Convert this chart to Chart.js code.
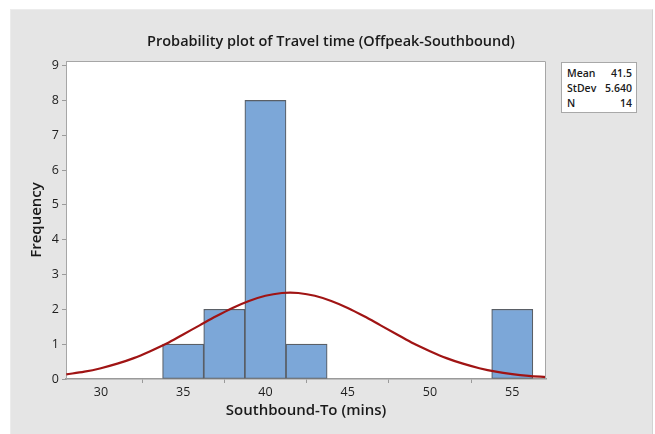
<!DOCTYPE html>
<html>
<head>
<meta charset="utf-8">
<script src="https://cdn.jsdelivr.net/npm/chart.js@4/dist/chart.umd.min.js"></script>
<style>
  html, body { margin: 0; padding: 0; background: #ffffff; }
  #wrap { position: relative; width: 655px; height: 434px; overflow: hidden; }
  #panel { position: absolute; left: 10px; top: 9px; width: 641px; height: 430px; background: #e5e5e5; border-right: 1px solid #d2d2d2; border-top: 1px solid #ececec; border-left: 1px solid #ececec; }
  #c { position: absolute; left: 0; top: 0; }
  #title { position: absolute; left: 131px; width: 400px; top: 31px; text-align: center;
           font-family: "Open Sans", "Noto Sans", sans-serif; font-size: 14.5px; font-weight: 600; color: #1a1a1a; line-height: 20px; white-space: nowrap; }
  #stats { position: absolute; left: 561px; top: 62px; width: 74px; height: 49px; background: #ffffff; border: 1px solid #a8a8a8;
           font-family: "Open Sans", "Noto Sans", sans-serif; font-size: 10.5px; font-weight: 600; color: #1a1a1a; }
  .row { position: absolute; left: 5px; right: 4px; height: 14px; line-height: 14px; }
  .row span.l { position: absolute; left: 0; }
  .row span.v { position: absolute; right: 0; }
</style>
</head>
<body>
<div id="wrap">
  <div id="panel"></div>
  <canvas id="c" width="655" height="434"></canvas>
  <div id="title"></div>
  <div id="stats">
    <div class="row" style="top:3px"><span class="l" id="lMean"></span><span class="v" id="sMean"></span></div>
    <div class="row" style="top:18px"><span class="l" id="lSd"></span><span class="v" id="sSd"></span></div>
    <div class="row" style="top:33px"><span class="l" id="lN"></span><span class="v" id="sN"></span></div>
  </div>
</div>
<script>
// Histogram bins (centers) and counts
const binCenters = [35, 37.5, 40, 42.5, 55];
const binCounts  = [1, 2, 8, 1, 2];

// Fitted normal curve
const curveX = [27.9, 29, 30, 31, 32, 33, 34, 35, 36, 37, 38, 39, 40, 41, 41.5, 42, 43, 44, 45, 46, 47, 48, 49, 50, 51, 52, 53, 54, 55, 56, 57.05];
const curveY = [0.135, 0.21, 0.31, 0.44, 0.60, 0.80, 1.02, 1.28, 1.54, 1.80, 2.04, 2.24, 2.39, 2.47, 2.48, 2.47, 2.39, 2.24, 2.04, 1.80, 1.54, 1.28, 1.02, 0.80, 0.60, 0.44, 0.31, 0.21, 0.14, 0.09, 0.055];

const xTicks = [30, 35, 40, 45, 50, 55];
const yTicks = [0, 1, 2, 3, 4, 5, 6, 7, 8, 9];

const titleText = 'Probability plot of Travel time (Offpeak-Southbound)';
const statLabels = ["Mean", "StDev", "N"];
const statValues = ["41.5", "5.640", "14"];

document.getElementById('title').textContent = titleText;
document.getElementById('lMean').textContent = statLabels[0];
document.getElementById('lSd').textContent = statLabels[1];
document.getElementById('lN').textContent = statLabels[2];
document.getElementById('sMean').textContent = statValues[0];
document.getElementById('sSd').textContent = statValues[1];
document.getElementById('sN').textContent = statValues[2];

const FONT = '"Open Sans", "Noto Sans", sans-serif';

const areaPlugin = {
  id: 'areaPlugin',
  beforeDraw(chart) {
    const {ctx, chartArea: a} = chart;
    ctx.save();
    ctx.fillStyle = '#ffffff';
    ctx.fillRect(a.left, a.top, a.right - a.left, a.bottom - a.top);
    ctx.restore();
  },
  afterDraw(chart) {
    const {ctx, chartArea: a} = chart;
    ctx.save();
    ctx.strokeStyle = '#a6a6a6';
    ctx.lineWidth = 1;
    ctx.beginPath();
    ctx.moveTo(a.left + 0.5, a.top + 0.5);
    ctx.lineTo(a.right - 0.5, a.top + 0.5);
    ctx.lineTo(a.right - 0.5, a.bottom);
    ctx.stroke();
    ctx.restore();
  }
};

new Chart(document.getElementById('c'), {
  type: 'bar',
  data: {
    datasets: [
      {
        type: 'line',
        data: curveX.map((x, i) => ({x: x, y: curveY[i]})),
        borderColor: '#a01414',
        borderWidth: 2.2,
        pointRadius: 0,
        tension: 0.4,
        cubicInterpolationMode: 'monotone',
        fill: false,
        order: 0
      },
      {
        type: 'bar',
        data: binCenters.map((x, i) => ({x: x, y: binCounts[i]})),
        backgroundColor: '#7ca7d8',
        borderColor: '#5a5f66',
        borderWidth: 1.2,
        borderSkipped: false,
        barPercentage: 1.0,
        categoryPercentage: 1.0,
        order: 1
      }
    ]
  },
  options: {
    responsive: false,
    animation: false,
    devicePixelRatio: 1,
    layout: { padding: { left: 20, right: 109, top: 61, bottom: 0 } },
    plugins: {
      legend: { display: false },
      tooltip: { enabled: false },
      title: { display: false }
    },
    scales: {
      x: {
        type: 'linear',
        min: 27.88,
        max: 57.05,
        offset: false,
        afterBuildTicks(scale) { scale.ticks = xTicks.map(v => ({value: v})); },
        afterFit(scale) { scale.height = 55; },
        ticks: {
          includeBounds: false,
          stepSize: 5,
          color: '#1e1e1e',
          padding: 2,
          maxRotation: 0,
          font: { family: FONT, size: 12.5 }
        },
        grid: { display: true, drawOnChartArea: false, drawTicks: true, tickLength: 4, color: '#9a9a9a' },
        border: { display: true, color: '#9a9a9a', width: 1.5 },
        title: {
          display: true,
          text: 'Southbound-To (mins)',
          color: '#1a1a1a',
          font: { family: FONT, size: 15, weight: '600' },
          padding: { top: 0, bottom: 14 }
        }
      },
      y: {
        min: 0,
        max: 9.13,
        afterBuildTicks(scale) { scale.ticks = yTicks.map(v => ({value: v})); },
        afterFit(scale) { scale.width = 46; },
        ticks: {
          includeBounds: false,
          stepSize: 1,
          color: '#1e1e1e',
          padding: 3,
          font: { family: FONT, size: 12.5 }
        },
        grid: { display: true, drawOnChartArea: false, drawTicks: true, tickLength: 4, color: '#9a9a9a' },
        border: { display: true, color: '#a6a6a6', width: 1 },
        title: {
          display: true,
          text: 'Frequency',
          color: '#1a1a1a',
          font: { family: FONT, size: 15, weight: '600' },
          padding: { top: 8, bottom: 0 }
        }
      }
    }
  },
  plugins: [areaPlugin]
});
</script>
</body>
</html>
